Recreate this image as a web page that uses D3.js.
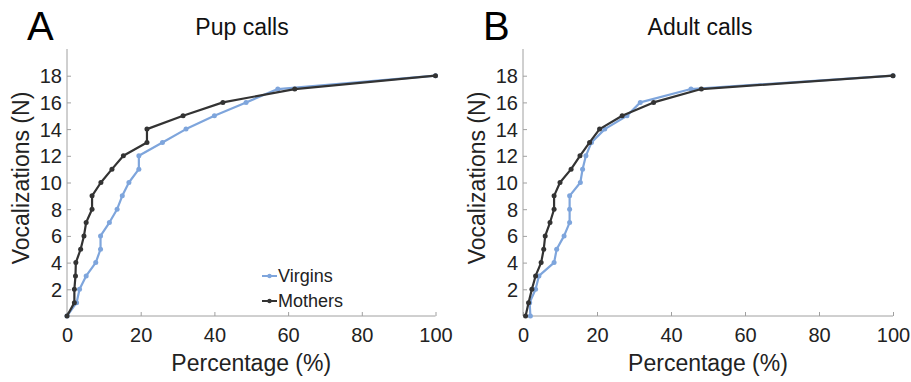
<!DOCTYPE html>
<html>
<head>
<meta charset="utf-8">
<script src="https://cdn.jsdelivr.net/npm/d3@7/dist/d3.min.js"></script>
<style>
  html, body { margin: 0; padding: 0; background: #fff; }
  svg { display: block; }
  text { font-family: "Liberation Sans", Arial, Helvetica, sans-serif; }
</style>
</head>
<body>
<svg id="chart" width="911" height="382"></svg>
<script>
// ---- data ----
const vocalizations = [0,1,2,3,4,5,6,7,8,9,10,11,12,13,14,15,16,17,18];
const pupVirgins   = [0,2.6,3.4,5.2,7.8,9.1,9.1,11.5,13.6,15.0,16.8,19.5,19.5,25.9,32.3,40.0,48.6,57.2,100];
const pupMothers   = [0,2.0,2.0,2.3,2.4,3.7,4.6,5.2,6.8,6.8,9.2,12.2,15.3,21.7,21.7,31.5,42.3,61.8,100];
const adultVirgins = [2.0,1.8,3.4,4.3,8.4,9.1,11.1,12.6,12.6,12.6,15.5,16.1,17.0,18.5,22.1,28.1,31.7,45.4,100];
const adultMothers = [0.7,1.5,2.4,3.4,4.9,5.6,6.0,7.3,8.4,8.4,10.0,13.0,15.4,18.0,20.7,26.8,35.3,48.2,100];
const xTicks = [0,20,40,60,80,100];
const yTicks = [2,4,6,8,10,12,14,16,18];
const seriesNames = ["Virgins","Mothers"];
const seriesColors = {Virgins: "#7ea5dc", Mothers: "#333333"};
const panels = [
  {letter: "A", title: "Pup calls",   virgins: pupVirgins,   mothers: pupMothers,   x0: 67,  x1: 435.5, titleX: 242, legend: true},
  {letter: "B", title: "Adult calls", virgins: adultVirgins, mothers: adultMothers, x0: 523, x1: 893,   titleX: 700, legend: false}
];

const svg = d3.select("#chart");
const yBottom = 316, yTop = 49;
const axisColor = "#a0a0a0", textColor = "#222";

panels.forEach(p => {
  const x = d3.scaleLinear().domain([0,100]).range([p.x0, p.x1]);
  const y = d3.scaleLinear().domain([0,20]).range([yBottom, yTop]);
  const g = svg.append("g");

  // x axis
  const xAxis = d3.axisBottom(x).tickValues(xTicks).tickSize(0).tickPadding(0);
  const xg = g.append("g").attr("transform", `translate(0,${yBottom})`).call(xAxis);
  xg.select(".domain").attr("stroke", axisColor).attr("stroke-width", 1).attr("d", `M${p.x0},0H${p.x1}`);
  xg.selectAll(".tick line").attr("y2", -4).attr("stroke", axisColor);
  xg.selectAll(".tick text").attr("y", 26).attr("dy", 0).attr("fill", textColor)
    .style("font-size", "20px");

  // y axis
  const yAxis = d3.axisLeft(y).tickValues(yTicks).tickSize(0).tickPadding(0);
  const yg = g.append("g").attr("transform", `translate(${p.x0},0)`).call(yAxis);
  yg.select(".domain").attr("stroke", axisColor).attr("stroke-width", 1).attr("d", `M0,${yBottom}V${yTop}`);
  yg.selectAll(".tick line").attr("x2", 4).attr("stroke", axisColor);
  yg.selectAll(".tick text").attr("x", -5).attr("dy", "0.35em").attr("fill", textColor)
    .style("font-size", "20px");

  // axis titles
  g.append("text").attr("x", (p.x0 + p.x1)/2).attr("y", 371).attr("text-anchor", "middle")
    .attr("fill", textColor).style("font-size", "23px").text("Percentage (%)");
  g.append("text").attr("transform", `translate(${p.x0 - 38},${178}) rotate(-90)`)
    .attr("text-anchor", "middle").attr("fill", textColor).style("font-size", "23px")
    .text("Vocalizations (N)");

  // title and panel letter
  g.append("text").attr("x", p.titleX).attr("y", 35).attr("text-anchor", "middle")
    .attr("fill", "#111").style("font-size", "23px").text(p.title);
  g.append("text").attr("x", p.x0 - 40).attr("y", 40)
    .attr("fill", "#000").style("font-size", "40px").text(p.letter);

  // series
  const line = d3.line().x(d => x(d[0])).y(d => y(d[1]));
  const draw = (vals, name) => {
    const pts = vals.map((v, i) => [v, vocalizations[i]]);
    g.append("path").datum(pts).attr("d", line).attr("fill", "none")
      .attr("stroke", seriesColors[name]).attr("stroke-width", 2.2).attr("stroke-linejoin", "round");
    g.selectAll(null).data(pts).enter().append("circle")
      .attr("cx", d => x(d[0])).attr("cy", d => y(d[1])).attr("r", 2.5)
      .attr("fill", seriesColors[name]);
  };
  draw(p.virgins, "Virgins");
  draw(p.mothers, "Mothers");

  if (p.legend) {
    const lg = g.append("g");
    seriesNames.forEach((name, i) => {
      const ly = 276 + i * 25;
      lg.append("line").attr("x1", 262).attr("x2", 277).attr("y1", ly).attr("y2", ly)
        .attr("stroke", seriesColors[name]).attr("stroke-width", 2);
      lg.append("circle").attr("cx", 269.5).attr("cy", ly).attr("r", 2.2).attr("fill", seriesColors[name]);
      lg.append("text").attr("x", 278).attr("y", ly).attr("dy", "0.35em").attr("fill", textColor)
        .style("font-size", "18px").text(name);
    });
  }
});
</script>
</body>
</html>
